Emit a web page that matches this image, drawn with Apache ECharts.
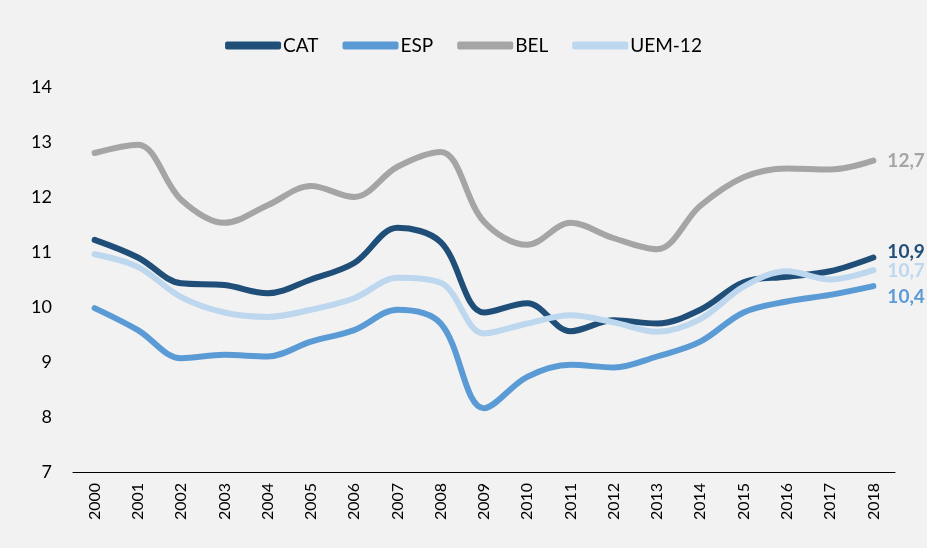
<!DOCTYPE html>
<html>
<head>
<meta charset="utf-8">
<script src="https://cdn.jsdelivr.net/npm/echarts@6/dist/echarts.min.js"></script>
<style>
  html, body { margin: 0; padding: 0; background: #f2f2f2; }
  #chart { width: 927px; height: 548px; }
</style>
</head>
<body>
<div id="chart"></div>
<script>
const years = ['2000','2001','2002','2003','2004','2005','2006','2007','2008','2009',
  '2010','2011','2012','2013','2014','2015','2016','2017','2018'];
const cat = [11.22, 10.9, 10.43, 10.4, 10.25, 10.5, 10.8, 11.44, 11.18, 9.9,
  10.07, 9.56, 9.76, 9.7, 9.95, 10.45, 10.55, 10.65, 10.9];
const esp = [9.98, 9.58, 9.07, 9.13, 9.1, 9.37, 9.58, 9.95, 9.7, 8.16,
  8.73, 8.95, 8.9, 9.1, 9.37, 9.9, 10.1, 10.22, 10.38];
const bel = [12.8, 12.95, 11.95, 11.53, 11.85, 12.2, 12.0, 12.55, 12.82, 11.55,
  11.13, 11.53, 11.25, 11.05, 11.84, 12.36, 12.52, 12.5, 12.66];
const uem = [10.96, 10.73, 10.18, 9.9, 9.82, 9.95, 10.16, 10.53, 10.44, 9.52,
  9.7, 9.85, 9.72, 9.55, 9.78, 10.37, 10.65, 10.5, 10.67];

const font = 'Lato, "Open Sans", sans-serif';

function line(name, data, color, dy) {
  return {
    name: name,
    type: 'line',
    data: data,
    smooth: 0.35,
    symbol: 'none',
    lineStyle: { width: 6, color: color, cap: 'round' },
    itemStyle: { color: color },
    endLabel: {
      show: true,
      distance: 14,
      offset: [0, dy],
      color: color,
      fontFamily: font,
      fontWeight: 'bold',
      fontSize: 19,
      formatter: p => p.value.toFixed(1).replace('.', ',')
    }
  };
}

const chart = echarts.init(document.getElementById('chart'));
chart.setOption({
  backgroundColor: '#f2f2f2',
  animation: false,
  legend: {
    top: 31,
    left: 'center',
    icon: 'roundRect',
    itemWidth: 56,
    itemHeight: 8,
    itemGap: 24,
    textStyle: { fontFamily: font, fontSize: 19, color: '#000', padding: [0, 0, 0, -3] }
  },
  grid: { left: 73, right: 32, top: 87, bottom: 76 },
  xAxis: {
    type: 'category',
    data: years,
    axisLine: { lineStyle: { color: '#000', width: 1 } },
    axisTick: { show: false },
    axisLabel: { rotate: 90, color: '#000', fontFamily: font, fontSize: 16, margin: 11 }
  },
  yAxis: {
    type: 'value',
    min: 7,
    max: 14,
    interval: 1,
    splitLine: { show: false },
    axisLine: { show: false },
    axisTick: { show: false },
    axisLabel: { color: '#000', fontFamily: font, fontSize: 18, margin: 21 }
  },
  series: [
    line('CAT', cat, '#1f4e79', -6),
    line('ESP', esp, '#5b9bd5', 11),
    line('BEL', bel, '#a5a5a5', 0),
    line('UEM-12', uem, '#bdd7ee', 1)
  ]
});
</script>
</body>
</html>
